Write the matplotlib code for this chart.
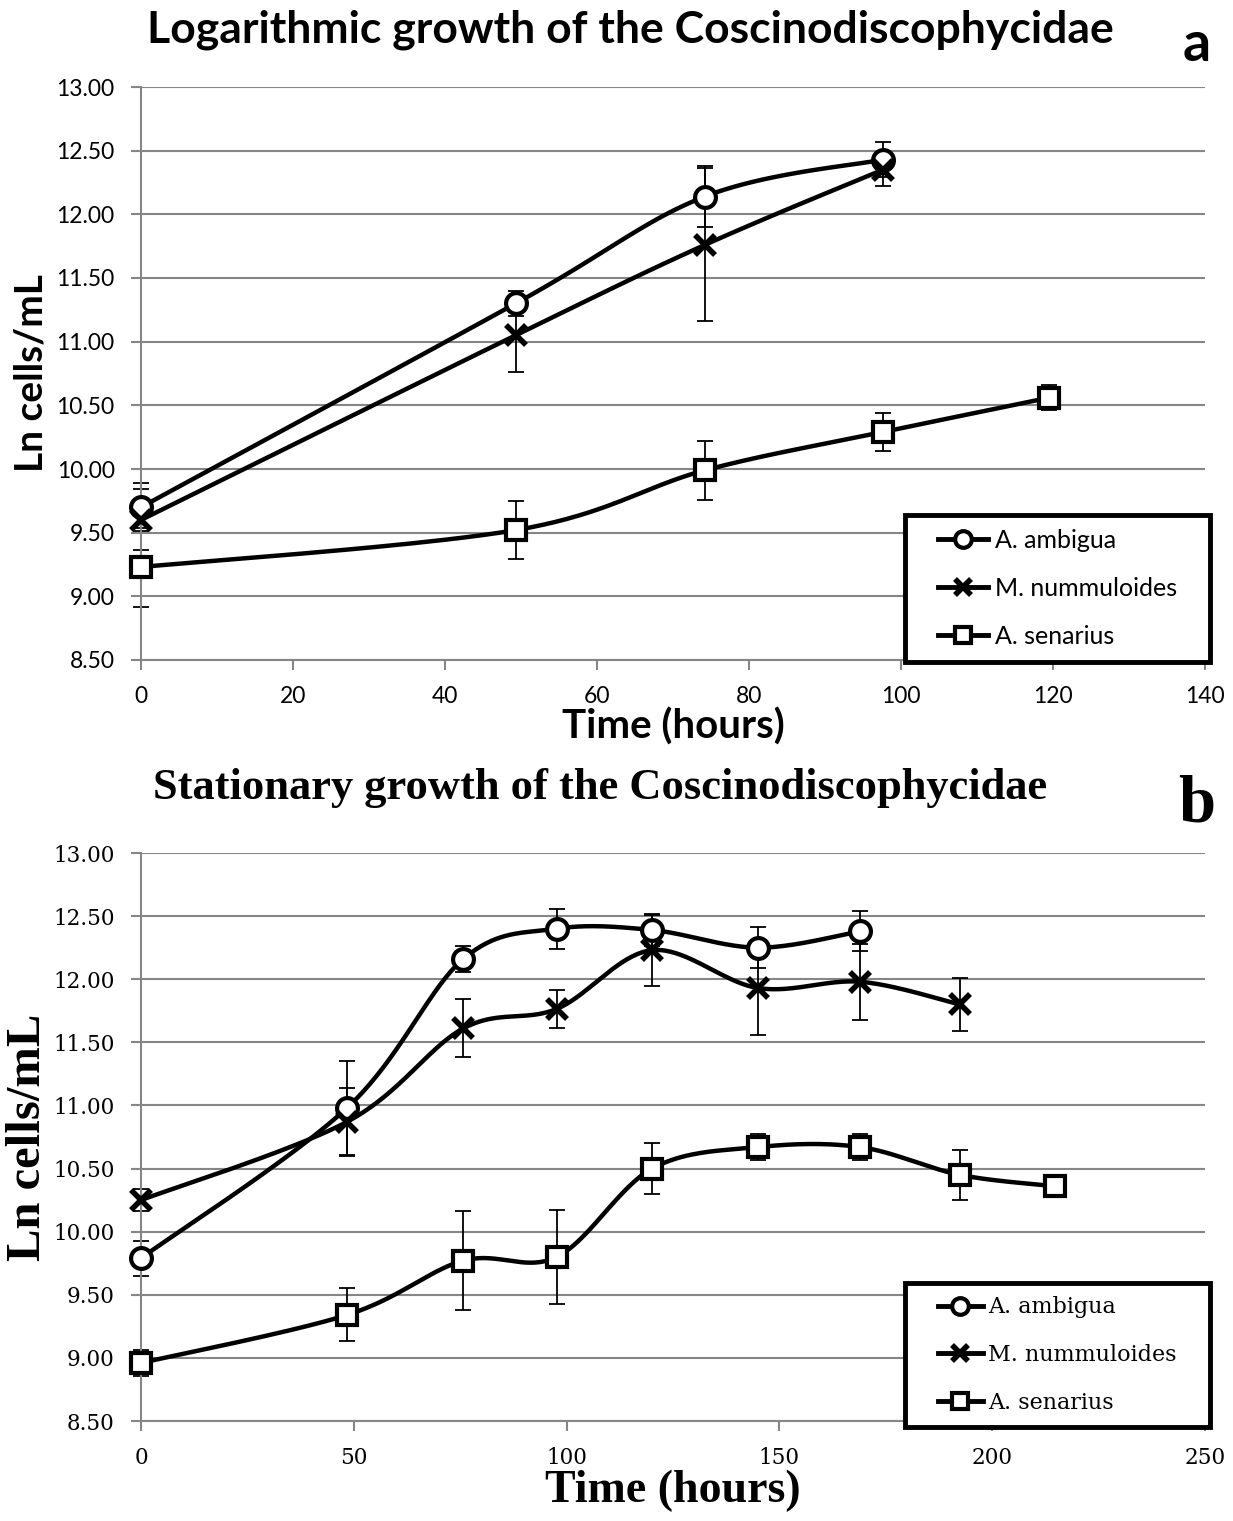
import numpy as np
import matplotlib
matplotlib.use('Agg')
import matplotlib.pyplot as plt
from matplotlib.lines import Line2D
from matplotlib.patches import Rectangle

# ---- datos (a) crecimiento logaritmico ----
a_t_amb = [0, 49.3, 74.2, 97.6]
a_amb = [9.70, 11.30, 12.14, 12.43]
a_amb_err = [0.19, 0.10, 0.24, 0.14]

a_t_mel = [0, 49.3, 74.2, 97.6]
a_mel = [9.60, 11.05, 11.76, 12.35]
a_mel_err = [0.24, 0.29, 0.60, 0.13]

a_t_sen = [0, 49.3, 74.2, 97.6, 119.5]
a_sen = [9.23, 9.52, 9.99, 10.29, 10.56]
a_sen_err = [0.31, 0.23, 0.23, 0.15, 0.10]

# ---- datos (b) crecimiento estacionario ----
b_t_amb = [0, 48.4, 75.7, 97.7, 120.1, 145, 169]
b_amb = [9.79, 10.98, 12.16, 12.40, 12.39, 12.25, 12.38]
b_amb_err = [0.14, 0.37, 0.10, 0.16, 0.13, 0.16, 0.16]

b_t_mel = [0, 48.4, 75.7, 97.7, 120.1, 145, 169, 192.4]
b_mel = [10.25, 10.87, 11.61, 11.765, 12.23, 11.93, 11.98, 11.80]
b_mel_err = [0.09, 0.27, 0.23, 0.15, 0.28, 0.37, 0.30, 0.21]

b_t_sen = [0, 48.4, 75.7, 97.7, 120.1, 145, 169, 192.4, 214.8]
b_sen = [8.96, 9.34, 9.77, 9.80, 10.50, 10.67, 10.67, 10.45, 10.36]
b_sen_err = [0.10, 0.21, 0.39, 0.37, 0.20, 0.10, 0.10, 0.20, 0.05]

names = ['A. ambigua', 'M. nummuloides', 'A. senarius']
yticks = [8.5, 9.0, 9.5, 10.0, 10.5, 11.0, 11.5, 12.0, 12.5, 13.0]

W, H = 1233, 1521
GRAY = '#868686'

fig = plt.figure(figsize=(W / 100, H / 100), dpi=100)
ax1 = fig.add_axes([141 / W, 1 - 660 / H, 1064 / W, 573 / H])
ax2 = fig.add_axes([141 / W, 1 - 1421 / H, 1064 / W, 568 / H])


def smooth(ax, x, y, n=40):
    # curva suavizada tipo Excel (Bezier / Catmull-Rom) en coordenadas de pantalla
    x = np.asarray(x, float)
    y = np.asarray(y, float)
    x0, x1 = ax.get_xlim()
    y0, y1 = ax.get_ylim()
    pos = ax.get_position()
    sx = pos.width * W / (x1 - x0)
    sy = pos.height * H / (y1 - y0)
    P = np.column_stack([(x - x0) * sx, (y - y0) * sy])
    out = [P[0]]
    t = np.linspace(0, 1, n)[1:, None]
    for i in range(len(P) - 1):
        p0 = P[i - 1] if i > 0 else P[i]
        p1, p2 = P[i], P[i + 1]
        p3 = P[i + 2] if i + 2 < len(P) else P[i + 1]
        c1 = p1 + (p2 - p0) / 6
        c2 = p2 - (p3 - p1) / 6
        seg = ((1 - t) ** 3) * p1 + 3 * ((1 - t) ** 2) * t * c1 + 3 * (1 - t) * t ** 2 * c2 + t ** 3 * p2
        out.extend(seg)
    out = np.array(out)
    return out[:, 0] / sx + x0, out[:, 1] / sy + y0


def series(ax, x, y, e, marker, ms, mew):
    sx, sy = smooth(ax, x, y)
    ax.plot(sx, sy, color='black', lw=3.2, zorder=3, solid_capstyle='butt', clip_on=False)
    eb = ax.errorbar(x, y, yerr=e, fmt='none', ecolor='black', elinewidth=1.3,
                     capsize=6, capthick=1.3, zorder=2)
    for art in eb.lines[1] + eb.lines[2]:
        art.set_clip_on(False)
    ax.plot(x, y, linestyle='none', marker=marker, ms=ms, mew=mew,
            mfc='white', mec='black', zorder=4, clip_on=False)


def estilo(ax, xmax, xstep, font, tsize):
    ax.set_xlim(0, xmax)
    ax.set_ylim(8.5, 13.0)
    ax.set_xticks(np.arange(0, xmax + 1, xstep))
    ax.set_yticks(yticks)
    ax.set_yticklabels([f'{v:.2f}' for v in yticks], family=font, fontsize=tsize)
    ax.set_xticklabels([str(int(v)) for v in np.arange(0, xmax + 1, xstep)],
                       family=font, fontsize=tsize)
    ax.grid(axis='y', color=GRAY, lw=1.5)
    ax.set_axisbelow(True)
    for s in ['top', 'right']:
        ax.spines[s].set_visible(False)
    for s in ['left', 'bottom']:
        ax.spines[s].set_color(GRAY)
        ax.spines[s].set_linewidth(1.5)
    ax.tick_params(axis='y', direction='out', length=7, width=1.5, color=GRAY, pad=12)
    ax.tick_params(axis='x', direction='out', length=7, width=1.5, color=GRAY, pad=12)


estilo(ax1, 140, 20, 'Lato', 16.5)
estilo(ax2, 250, 50, 'DejaVu Serif', 15.5)

series(ax1, a_t_amb, a_amb, a_amb_err, 'o', 15, 3)
series(ax1, a_t_mel, a_mel, a_mel_err, 'x', 14, 4)
series(ax1, a_t_sen, a_sen, a_sen_err, 's', 15, 3)

series(ax2, b_t_amb, b_amb, b_amb_err, 'o', 15, 3)
series(ax2, b_t_mel, b_mel, b_mel_err, 'x', 14, 4)
series(ax2, b_t_sen, b_sen, b_sen_err, 's', 15, 3)

# etiquetas y titulos
ax1.set_xlabel('Time (hours)', family='Lato', fontweight='bold', fontsize=29, labelpad=0)
ax1.set_ylabel('Ln cells/mL', family='Lato', fontweight='bold', fontsize=28, labelpad=6)
fig.text(630 / W, 1 - 30 / H, 'Logarithmic growth of the Coscinodiscophycidae',
         family='Lato', fontweight='bold', fontsize=32, ha='center', va='center')
fig.text(1197 / W, 1 - 45 / H, 'a', family='Lato', fontweight='bold', fontsize=40,
         ha='center', va='center')

ax2.set_xlabel('Time (hours)', family='Liberation Serif', fontweight='bold', fontsize=33, labelpad=0)
ax2.set_ylabel('Ln cells/mL', family='Liberation Serif', fontweight='bold', fontsize=35, labelpad=2)
fig.text(600 / W, 1 - 788 / H, 'Stationary growth of the Coscinodiscophycidae',
         family='Liberation Serif', fontweight='bold', fontsize=32, ha='center', va='center')
fig.text(1197 / W, 1 - 805 / H, 'b', family='Liberation Serif', fontweight='bold', fontsize=48,
         ha='center', va='center')


def leyenda(ax, x0, y0, x1, y1, font, size, spacing):
    # marco dibujado aparte, contenido centrado dentro
    ax.add_patch(Rectangle((x0 / W, 1 - y1 / H), (x1 - x0) / W, (y1 - y0) / H,
                           transform=fig.transFigure, facecolor='white',
                           edgecolor='black', lw=3.5, zorder=9, clip_on=False))
    handles = [
        Line2D([], [], color='black', lw=3.5, marker='o', ms=12, mew=3, mfc='white', mec='black'),
        Line2D([], [], color='black', lw=3.5, marker='x', ms=11, mew=4),
        Line2D([], [], color='black', lw=3.5, marker='s', ms=12, mew=3, mfc='white', mec='black'),
    ]
    leg = ax.legend(handles, names, loc='center',
                    bbox_to_anchor=((x0 + x1) / 2 / W, 1 - (y0 + y1) / 2 / H),
                    bbox_transform=fig.transFigure, frameon=False,
                    borderaxespad=0, handlelength=2.0, handletextpad=0.25,
                    labelspacing=spacing, borderpad=0,
                    prop={'family': font, 'size': size})
    leg.set_zorder(10)


leyenda(ax1, 905, 515, 1210, 662, 'Lato', 18, 1.0)
leyenda(ax2, 905, 1283, 1210, 1427, 'DejaVu Serif', 16, 1.15)

fig.savefig('out.png', dpi=100)
